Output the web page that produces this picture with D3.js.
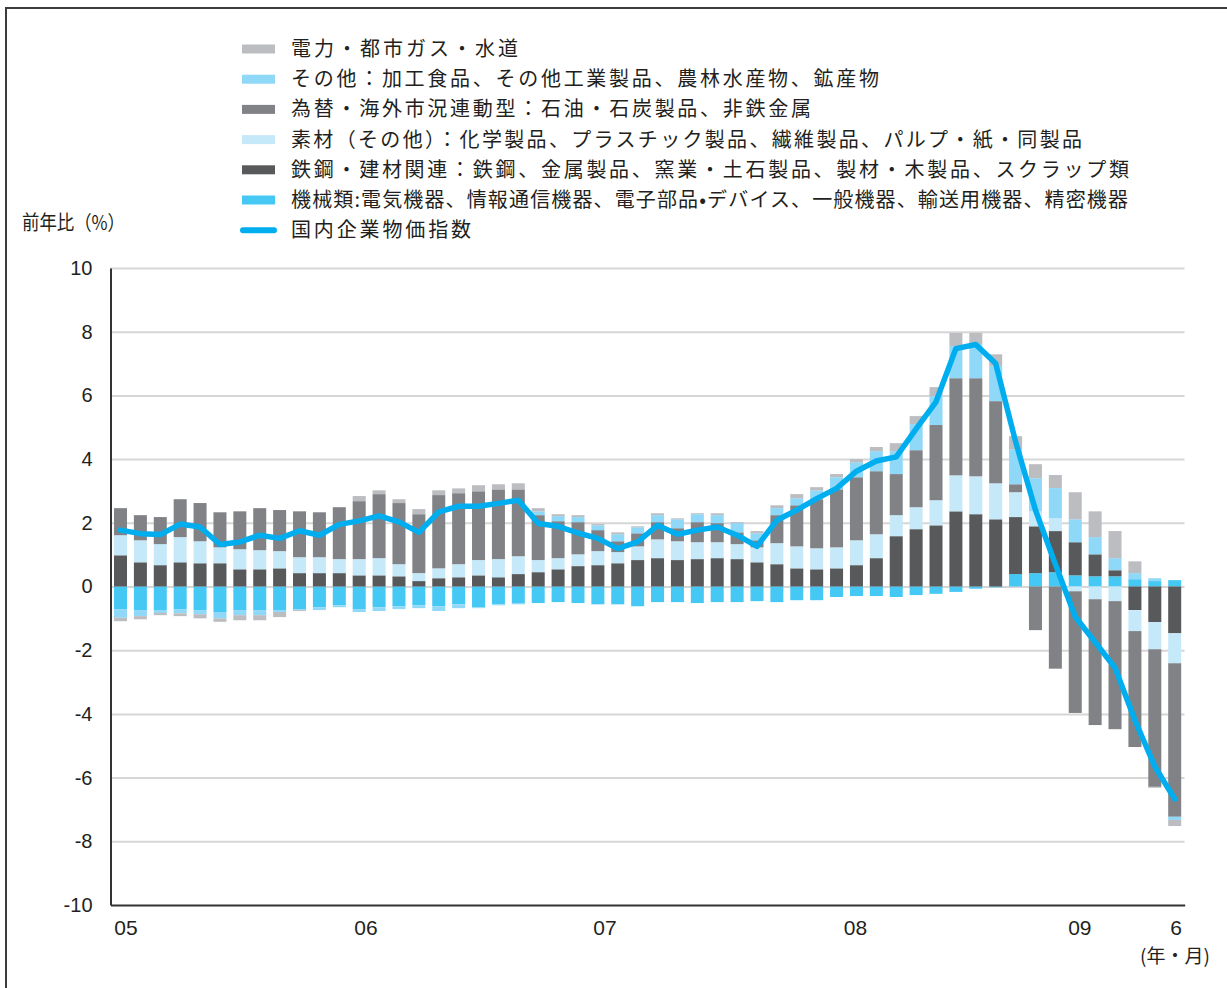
<!DOCTYPE html>
<html><head><meta charset="utf-8">
<script src="https://cdn.jsdelivr.net/npm/d3@7"></script>
<style>body{margin:0;background:#fff}svg{display:block}</style>
</head><body>
<svg id="c" width="1227" height="988"></svg>
<script>
// ---------- DATA ----------
const months = [
 "2005-01","2005-02","2005-03","2005-04","2005-05","2005-06","2005-07","2005-08","2005-09","2005-10","2005-11","2005-12",
 "2006-01","2006-02","2006-03","2006-04","2006-05","2006-06","2006-07","2006-08","2006-09","2006-10","2006-11","2006-12",
 "2007-01","2007-02","2007-03","2007-04","2007-05","2007-06","2007-07","2007-08","2007-09","2007-10","2007-11","2007-12",
 "2008-01","2008-02","2008-03","2008-04","2008-05","2008-06","2008-07","2008-08","2008-09","2008-10","2008-11","2008-12",
 "2009-01","2009-02","2009-03","2009-04","2009-05","2009-06"];

// 機械類
const machinery = [-0.71,-0.74,-0.74,-0.71,-0.74,-0.80,-0.74,-0.74,-0.74,-0.71,-0.65,-0.59,
 -0.71,-0.65,-0.62,-0.59,-0.62,-0.56,-0.65,-0.56,-0.52,-0.52,-0.49,-0.52,
 -0.56,-0.56,-0.62,-0.49,-0.49,-0.52,-0.49,-0.49,-0.46,-0.49,-0.43,-0.43,
 -0.33,-0.30,-0.30,-0.33,-0.27,-0.23,-0.17,-0.07,-0.03,0.39,0.42,0.45,
 0.35,0.32,0.32,0.23,0.17,0.20];
// 鉄鋼・建材関連
const steel = [0.98,0.76,0.67,0.76,0.73,0.73,0.54,0.54,0.57,0.42,0.42,0.42,
 0.35,0.35,0.32,0.17,0.26,0.29,0.35,0.29,0.39,0.45,0.54,0.64,
 0.67,0.73,0.83,0.89,0.83,0.86,0.89,0.86,0.76,0.70,0.57,0.54,
 0.57,0.67,0.89,1.58,1.80,1.92,2.36,2.27,2.11,1.79,1.47,1.29,
 1.04,0.69,0.19,-0.74,-1.12,-1.47];
// 素材（その他）
const materials = [0.63,0.69,0.66,0.79,0.69,0.50,0.63,0.60,0.54,0.50,0.50,0.44,
 0.51,0.54,0.38,0.25,0.31,0.41,0.48,0.57,0.56,0.38,0.35,0.37,
 0.44,0.35,0.43,0.59,0.59,0.53,0.50,0.47,0.47,0.66,0.69,0.66,
 0.66,0.78,0.75,0.66,0.69,0.79,1.13,1.19,1.13,0.78,0.47,0.41,
 -0.15,-0.40,-0.46,-0.66,-0.85,-0.94];
// 為替・海外市況連動型
const forex = [0.85,0.79,0.85,1.19,1.20,1.10,1.19,1.32,1.29,1.44,1.41,1.63,
 1.82,2.01,1.92,1.85,2.30,2.23,2.16,2.19,2.10,1.41,1.16,1.01,
 0.66,0.34,0.41,0.54,0.41,0.63,0.60,0.37,0.22,0.88,1.29,1.54,
 1.82,1.98,1.98,1.29,1.79,2.36,3.05,3.08,2.58,0.25,-1.37,-2.58,
 -3.82,-3.95,-4.02,-3.64,-4.32,-4.82];
// その他
const other = [-0.27,-0.19,-0.09,-0.13,-0.13,-0.20,-0.16,-0.16,-0.06,-0.03,-0.09,-0.06,
 -0.09,-0.12,-0.09,-0.09,-0.15,-0.12,-0.03,-0.03,-0.04,0.12,0.16,0.16,
 0.15,0.22,0.19,0.22,0.28,0.25,0.25,0.29,0.22,0.22,0.22,0.28,
 0.38,0.47,0.63,0.72,0.82,0.91,1.01,1.07,1.10,1.10,1.04,0.94,
 0.72,0.54,0.38,0.19,0.09,-0.10];
// 電力・都市ガス・水道
const electric = [-0.11,-0.10,-0.07,-0.09,-0.13,-0.11,-0.16,-0.16,-0.16,-0.03,0,0,
 0.16,0.12,0.12,0.16,0.15,0.15,0.19,0.16,0.19,0.10,0.06,0.06,
 0.04,0.06,0.03,0.06,0.03,0.03,0.06,0.03,0.07,0.09,0.13,0.10,
 0.10,0.10,0.13,0.25,0.25,0.28,0.41,0.35,0.37,0.41,0.44,0.41,
 0.85,0.81,0.85,0.37,-0.03,-0.19];
// 国内企業物価指数
const cgpi = [1.77,1.66,1.63,1.96,1.87,1.32,1.40,1.61,1.51,1.75,1.61,1.95,
 2.06,2.22,2.03,1.70,2.34,2.52,2.52,2.61,2.71,1.98,1.89,1.68,
 1.51,1.19,1.40,1.92,1.64,1.77,1.87,1.61,1.26,2.08,2.40,2.76,
 3.08,3.62,3.94,4.07,4.95,5.80,7.47,7.60,7.00,4.55,2.40,0.70,
 -0.95,-1.75,-2.55,-4.20,-5.65,-6.67];

const yTicks = [10,8,6,4,2,0,-2,-4,-6,-8,-10];
const xTickMonths = ["2005-01","2006-01","2007-01","2008-01","2009-01","2009-06"];
const xTickLabels = ["05","06","07","08","09","6"];

const seriesKeys = ["machinery","steel","materials","forex","other","electric"];
const legendNames = [
 "電力・都市ガス・水道",
 "その他：加工食品、その他工業製品、農林水産物、鉱産物",
 "為替・海外市況連動型：石油・石炭製品、非鉄金属",
 "素材（その他）：化学製品、プラスチック製品、繊維製品、パルプ・紙・同製品",
 "鉄鋼・建材関連：鉄鋼、金属製品、窯業・土石製品、製材・木製品、スクラップ類",
 "機械類:電気機器、情報通信機器、電子部品•デバイス、一般機器、輸送用機器、精密機器",
 "国内企業物価指数"];

// ---------- STYLE / LAYOUT ----------
const colors = {machinery:"#45c8f4", steel:"#58595b", materials:"#c6e9f9",
  forex:"#808285", other:"#8fd8f7", electric:"#bcbdc0"};
const lineColor = "#00aeef";
const legendKeys = ["electric","other","forex","materials","steel","machinery","line"];
const legendWidths = [227, 588, 520, 791, 838, 837, 180];
const xLabelNudge = [5.5, 6.8, 7, 19, 4.6, 1.3];
const JP = "'Noto Sans CJK JP','Noto Sans CJK SC',sans-serif";
const NUM = "'Liberation Sans',Arial,sans-serif";

const table = months.map((m,i)=>({month:m, machinery:machinery[i], steel:steel[i],
  materials:materials[i], forex:forex[i], other:other[i], electric:electric[i]}));

const svg = d3.select("#c");
const x = d3.scaleBand().domain(months).range([110.5,1184.7]).paddingInner(0.346).paddingOuter(0.176);
const y = d3.scaleLinear().domain([-10,10]).range([905,268]);

// frame
svg.append("path").attr("d","M6,988V8H1227").attr("fill","none").attr("stroke","#3c3c3c").attr("stroke-width",2);

// grid
svg.append("g").attr("transform","translate(110.5,0)")
  .call(d3.axisRight(y).tickValues(yTicks.filter(v=>v>-10)).tickSize(1074).tickFormat(""))
  .call(g=>g.select(".domain").remove())
  .call(g=>g.selectAll("line").attr("stroke","#d6d6d6").attr("stroke-width",2));

// bars
const stack = d3.stack().keys(seriesKeys).order(d3.stackOrderNone).offset(d3.stackOffsetDiverging);
const layers = stack(table);
svg.append("g").selectAll("g").data(layers).join("g")
  .attr("fill",d=>colors[d.key])
  .selectAll("rect").data(d=>d).join("rect")
  .attr("x",d=>x(d.data.month))
  .attr("width",x.bandwidth())
  .attr("y",d=>y(Math.max(d[0],d[1])))
  .attr("height",d=>Math.abs(y(d[0])-y(d[1])));

// axes
const yAxis = svg.append("g").attr("transform","translate(110.5,0)")
  .call(d3.axisLeft(y).tickValues(yTicks).tickSize(0).tickSizeOuter(0).tickPadding(18).tickFormat(d=>String(d)));
yAxis.select(".domain").attr("stroke","#333").attr("stroke-width",2);
yAxis.selectAll("text").attr("font-family",NUM).attr("font-size",20).attr("fill","#231f20");

const xAxis = svg.append("g").attr("transform","translate(0,905)")
  .call(d3.axisBottom(x).tickValues(xTickMonths).tickSize(0).tickSizeOuter(0).tickPadding(15)
     .tickFormat(d=>xTickLabels[xTickMonths.indexOf(d)]));
xAxis.select(".domain").attr("stroke","#333").attr("stroke-width",2);
xAxis.selectAll("text").attr("font-family",NUM).attr("font-size",21).attr("fill","#231f20")
  .attr("dx",(d,i)=>xLabelNudge[i]);

// line
svg.append("path").datum(cgpi)
  .attr("fill","none").attr("stroke",lineColor).attr("stroke-width",5.5)
  .attr("stroke-linejoin","round").attr("stroke-linecap","round")
  .attr("d",d3.line().x((d,i)=>x(months[i])+x.bandwidth()/2).y(d=>y(d)));

// axis titles
svg.append("text").attr("x",22).attr("y",230).attr("font-family",JP).attr("font-size",20)
  .attr("fill","#231f20").attr("textLength",103).attr("lengthAdjust","spacingAndGlyphs").text("前年比（%）");
svg.append("text").attr("x",1140).attr("y",963).attr("font-family",JP).attr("font-size",19)
  .attr("fill","#231f20").text("(年・月)");

// legend
const lg = svg.append("g");
legendKeys.forEach((k,i)=>{
  const cy = 49 + i*30.2;
  if(k==="line"){
    lg.append("line").attr("x1",243).attr("x2",274).attr("y1",cy).attr("y2",cy)
      .attr("stroke",lineColor).attr("stroke-width",6).attr("stroke-linecap","round");
  } else {
    lg.append("rect").attr("x",242).attr("y",cy-4.5).attr("width",33).attr("height",9).attr("fill",colors[k]);
  }
  lg.append("text").attr("x",291).attr("y",cy+7).attr("font-family",JP).attr("font-size",20)
    .attr("fill","#231f20").attr("textLength",legendWidths[i]).attr("lengthAdjust","spacing")
    .text(legendNames[i]);
});
</script>
</body></html>
